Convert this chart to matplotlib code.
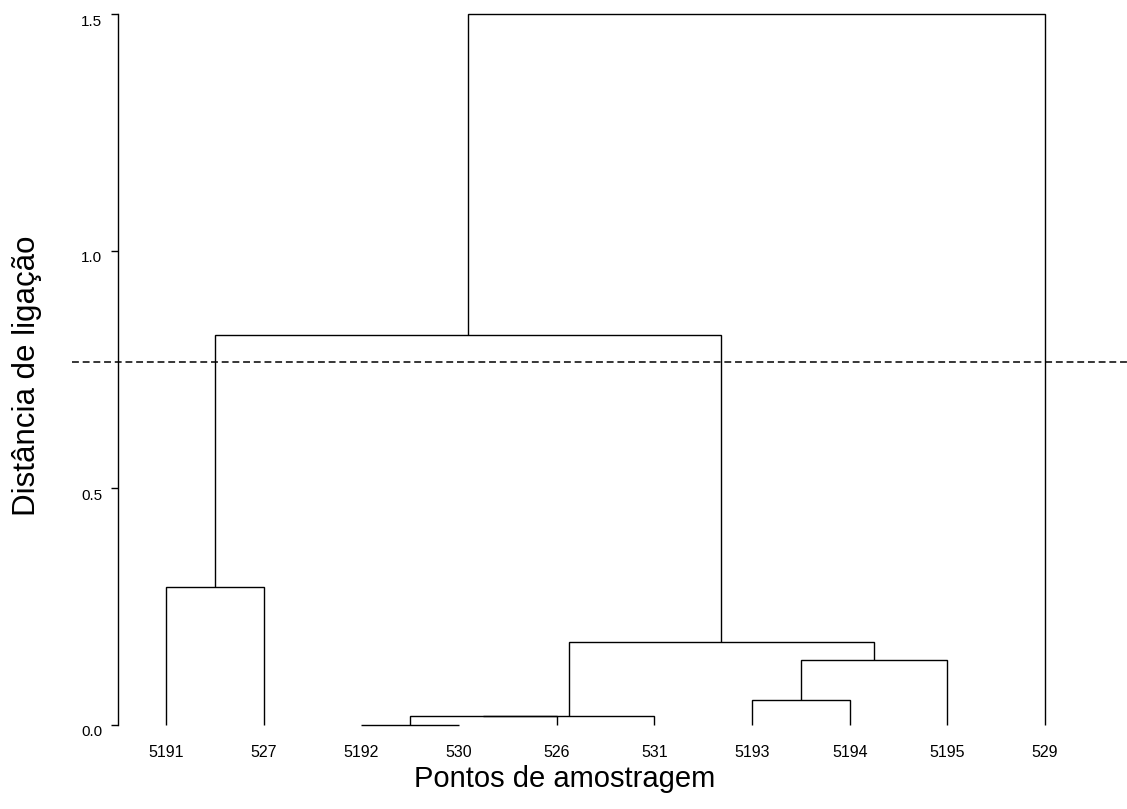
import matplotlib
matplotlib.use('Agg')
import matplotlib.pyplot as plt
from matplotlib.transforms import ScaledTranslation

plt.rcParams['font.family'] = ['Liberation Sans', 'DejaVu Sans']

# leaf labels, in dendrogram order
labels = ['5191', '527', '5192', '530', '526', '531', '5193', '5194', '5195', '529']
# hclust-style merge table: negative = leaf (1-based, in order above), positive = earlier merge row
merge = [(-3, -4), (1, -5), (2, -6), (-7, -8), (4, -9), (3, 5), (-1, -2), (7, 6), (8, -10)]
heights = [0.0008, 0.0195, 0.0200, 0.053, 0.137, 0.175, 0.292, 0.823, 1.499]
cut = 0.765
yticks = [0.0, 0.5, 1.0, 1.5]


def node_pos(ref, xs):
    if ref < 0:
        return -ref, 0.0
    return xs[ref - 1], heights[ref - 1]


fig = plt.figure(figsize=(11.27, 8.09), dpi=100)
ax = fig.add_axes([72 / 1127, 0, 1055 / 1127, 1])

xs = []
for (a, b), h in zip(merge, heights):
    xa, ya = node_pos(a, xs)
    xb, yb = node_pos(b, xs)
    ax.plot([xa, xa, xb, xb], [ya, h, h, yb], color='black', lw=1.0,
            solid_capstyle='butt', solid_joinstyle='miter')
    xs.append((xa + xb) / 2)

ax.axhline(cut, color='black', lw=1.1, ls=(0, (4.5, 2.5)))

for i, lab in enumerate(labels):
    ax.text(i + 1, -0.057, lab, ha='center', va='center', fontsize=11.5)

ax.set_xlim(1 + (72 - 166) / 97.67, 1 + (1127 - 166) / 97.67)
ax.set_ylim(-(809 - 725) / 474, 725 / 474)

for s in ['top', 'right', 'bottom']:
    ax.spines[s].set_visible(False)
ax.spines['left'].set_position(('data', 1 + (118 - 166) / 97.67))
ax.spines['left'].set_bounds(0, 1.5)
ax.spines['left'].set_linewidth(1.0)
ax.set_xticks([])
ax.set_yticks(yticks)
ax.set_yticklabels(['%.1f' % v for v in yticks])
ax.tick_params(axis='y', direction='out', length=5, width=1.0, pad=6.5, labelsize=11)
for t in ax.get_yticklabels():
    t.set_transform(t.get_transform() + ScaledTranslation(0, -0.06, fig.dpi_scale_trans))
ax.patch.set_visible(False)

fig.text(565 / 1127, 1 - 779 / 809, 'Pontos de amostragem', ha='center', va='center', fontsize=21)
fig.text(27 / 1127, 1 - 376 / 809, 'Distância de ligação', ha='center', va='center',
         rotation=90, fontsize=22.5)

fig.savefig('out.png', dpi=100)
